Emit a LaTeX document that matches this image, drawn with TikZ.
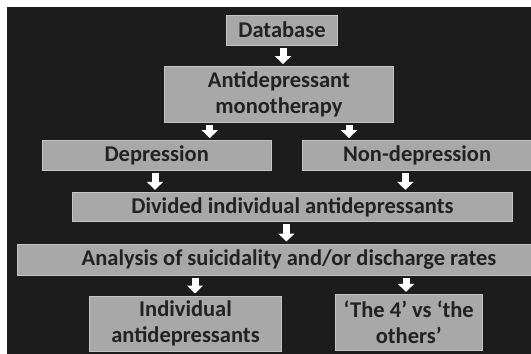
\documentclass[tikz,border=0pt]{standalone}
\usepackage{fontspec}
\setmainfont{Carlito}
\usetikzlibrary{arrows.meta}
\definecolor{bgblack}{HTML}{1C1C1C}
\definecolor{boxgray}{HTML}{A8A8A8}
\definecolor{boxedge}{HTML}{C4C4C4}
\definecolor{boxtext}{HTML}{222222}
\tikzset{
    flowbox/.style={draw=boxedge, line width=1pt, fill=boxgray, text=boxtext,
        font=\fontsize{22.5}{26}\selectfont\bfseries, align=center, inner sep=0pt},
    blockarrow/.style={white, line width=7pt, -{Triangle[width=16pt,length=8pt]},
        shorten <=2pt, shorten >=2pt}
}
\begin{document}
\begin{tikzpicture}[x=1pt,y=-1pt]
        \useasboundingbox (0,0) rectangle (531,354);
        \clip (0,0) rectangle (531,354);
        \fill[white] (0,0) rectangle (531,354);
        \fill[bgblack] (7,7) rectangle (531,354);

        \node[flowbox, minimum width=110.6pt, minimum height=30pt] (db) at (282,30) {Database};
        \node[flowbox, minimum width=228.6pt, minimum height=56pt] (mono) at (278.9,94.6) {Antidepressant\\monotherapy};
        \node[flowbox, minimum width=228.6pt, minimum height=30pt] (dep) at (156.7,155.6) {Depression};
        \node[flowbox, minimum width=228.6pt, minimum height=30pt] (nondep) at (417.1,155.6) {Non-depression};
        \node[flowbox, minimum width=439.3pt, minimum height=29.3pt] (div) at (292.4,207) {Divided individual antidepressants};
        \node[flowbox, minimum width=544pt, minimum height=31pt] (ana) at (289,259.5) {Analysis of suicidality and/or discharge rates};
        \node[flowbox, minimum width=192.4pt, minimum height=55pt] (ind) at (185.5,323.5) {Individual\\antidepressants};
        \node[flowbox, minimum width=147.3pt, minimum height=55.7pt] (four) at (408.7,322.2) {‘The 4’ vs ‘the\\others’};

        \draw[blockarrow] ([xshift=1pt]db.south) -- ([xshift=1pt]db.south |- mono.north);
        \draw[blockarrow] ([xshift=45.7pt]mono.south west) -- ([xshift=45.7pt]mono.south west |- dep.north);
        \draw[blockarrow] ([xshift=-44.7pt]mono.south east) -- ([xshift=-44.7pt]mono.south east |- nondep.north);
        \draw[blockarrow] ([xshift=-1.7pt]dep.south) -- ([xshift=-1.7pt]dep.south |- div.north);
        \draw[blockarrow] ([xshift=-11.7pt]nondep.south) -- ([xshift=-11.7pt]nondep.south |- div.north);
        \draw[blockarrow] ([xshift=-6pt]div.south) -- ([xshift=-6pt]div.south |- ana.north);
        \draw[blockarrow] ([xshift=9.5pt]ind.north |- ana.south) -- ([xshift=9.5pt]ind.north);
        \draw[blockarrow] ([xshift=-2.7pt]four.north |- ana.south) -- ([xshift=-2.7pt]four.north);
    \end{tikzpicture}
\end{document}
